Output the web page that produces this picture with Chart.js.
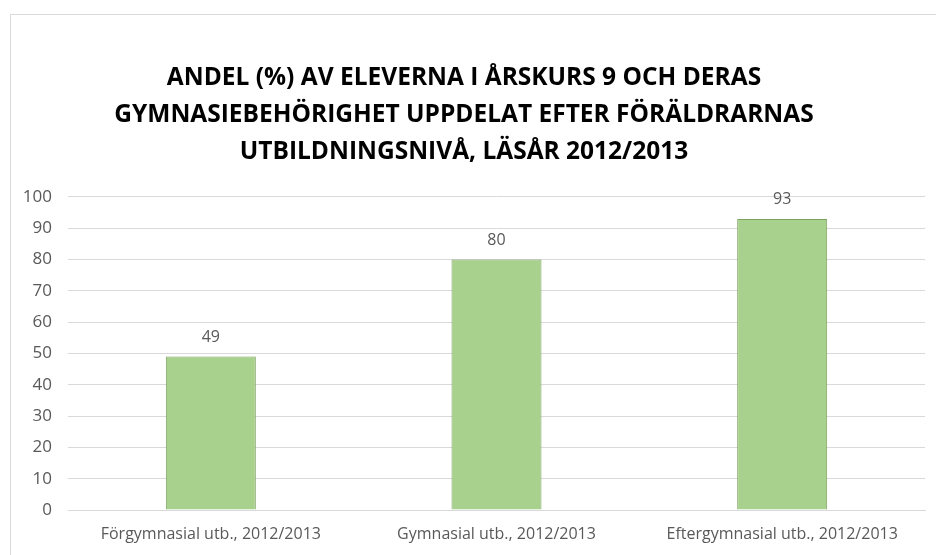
<!DOCTYPE html>
<html>
<head>
<meta charset="utf-8">
<script src="https://cdn.jsdelivr.net/npm/chart.js@4"></script>
<style>
  body { margin: 0; background: #fff; }
  #wrap {
    position: absolute; left: 10px; top: 14px;
    width: 940px; height: 560px;
    border: 1px solid #d9d9d9; background: #fff;
  }
  #chart { position: absolute; left: 3px; top: 15px; display: block; }
</style>
</head>
<body>
<div id="wrap"></div>
<canvas id="chart" width="930" height="540"></canvas>
<script>
var categories = ['Förgymnasial utb., 2012/2013', 'Gymnasial utb., 2012/2013', 'Eftergymnasial utb., 2012/2013'];
var values = [49, 80, 93];
var titleLines = [
    'ANDEL (%) AV ELEVERNA I ÅRSKURS 9 OCH DERAS',
    'GYMNASIEBEHÖRIGHET UPPDELAT EFTER FÖRÄLDRARNAS',
    'UTBILDNINGSNIVÅ, LÄSÅR 2012/2013'
];

var fontFamily = '"Open Sans", "Noto Sans", sans-serif';

// labels above the bars
var valueLabels = {
    id: 'valueLabels',
    afterDatasetsDraw: function(chart) {
        var ctx = chart.ctx;
        var meta = chart.getDatasetMeta(0);
        ctx.save();
        ctx.font = '16px ' + fontFamily;
        ctx.fillStyle = '#595959';
        ctx.textAlign = 'center';
        ctx.textBaseline = 'middle';
        meta.data.forEach(function(bar, i) {
            ctx.fillText(chart.data.datasets[0].data[i], bar.x, bar.y - 19);
        });
        ctx.restore();
    }
};

var ctx = document.getElementById('chart').getContext('2d');
var myChart = new Chart(ctx, {
    type: 'bar',
    data: {
        labels: categories,
        datasets: [{
            data: values,
            backgroundColor: '#a9d18e',
            borderColor: '#7ea35f',
            borderWidth: 1,
            barPercentage: 0.63,
            categoryPercentage: 0.5
        }]
    },
    options: {
        responsive: false,
        animation: false,
        layout: { padding: { left: 0, right: 8, top: 0, bottom: 0 } },
        scales: {
            y: {
                min: 0,
                max: 100,
                ticks: {
                    stepSize: 10,
                    color: '#595959',
                    font: { family: fontFamily, size: 17 },
                    padding: 16
                },
                grid: { color: '#d9d9d9', drawTicks: false },
                border: { display: false },
                afterFit: function(scale) { scale.width = 65; }
            },
            x: {
                ticks: {
                    color: '#595959',
                    font: { family: fontFamily, size: 16 },
                    padding: 15,
                    maxRotation: 0
                },
                grid: { display: false, drawTicks: false },
                border: { color: '#d9d9d9' },
                afterFit: function(scale) { scale.height = 45; }
            }
        },
        plugins: {
            legend: { display: false },
            tooltip: { enabled: false },
            title: {
                display: true,
                text: titleLines,
                color: '#000',
                font: { family: fontFamily, size: 24.5, weight: 'bold', lineHeight: 1.51 },
                padding: { top: 45, bottom: 26 }
            }
        }
    },
    plugins: [valueLabels]
});
</script>
</body>
</html>
